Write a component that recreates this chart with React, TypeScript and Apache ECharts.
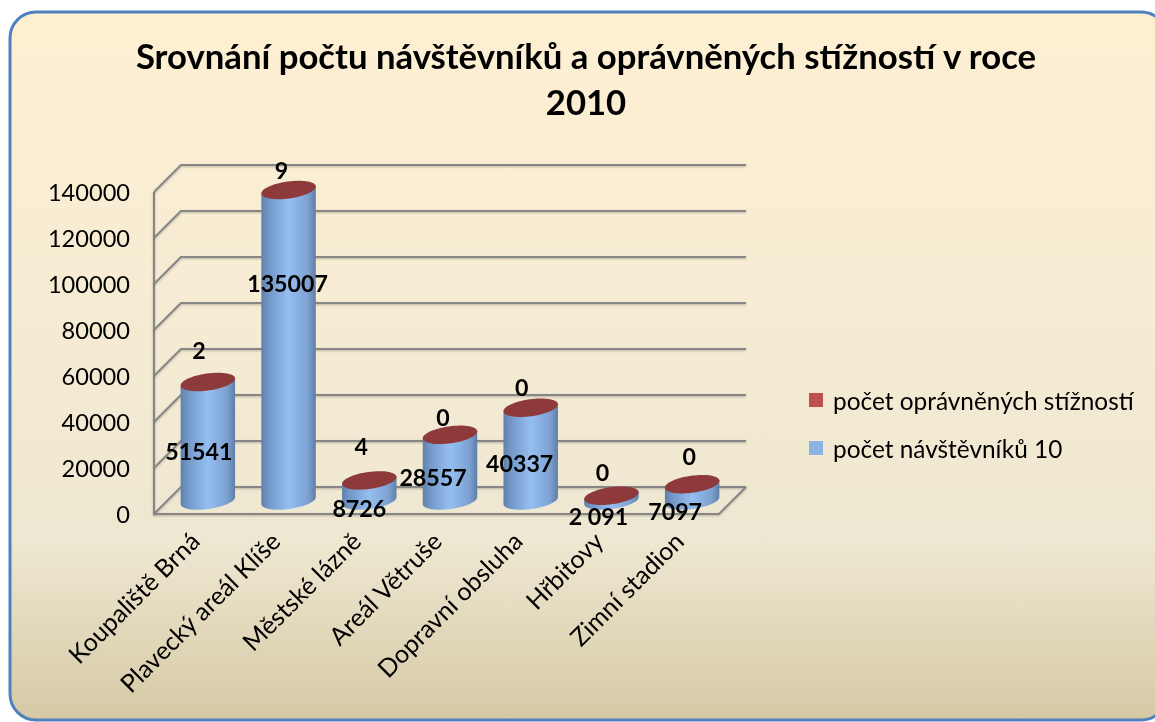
import React, { useEffect, useRef } from "react";
import * as echarts from "echarts";

const categories = ["Koupaliště Brná", "Plavecký areál Klíše", "Městské lázně", "Areál Větruše", "Dopravní obsluha", "Hřbitovy", "Zimní stadion"];
const visitors = [51541, 135007, 8726, 28557, 40337, 2091, 7097];
const visitorLabels = ["51541", "135007", "8726", "28557", "40337", "2 091", "7097"];
const complaints = [2, 9, 4, 0, 0, 0, 0];
const yTicks = [0, 20000, 40000, 60000, 80000, 100000, 120000, 140000];
// hand-placed label offsets, relative to the centre of each cylinder's top cap
const visitorLabelShift = [[-9, 69], [-1, 93], [-10, 28], [-17, 42], [-11, 55], [-13, 20], [-17, 27]];
const complaintLabelShift = [[-9, -32], [-7, -20], [-8, -34], [-7, -18], [-9, -21], [-9, -24], [-3, -28]];

const DEPTH = 27;
const RX = 27.5;
const RY = 8.5;
const TILT = (8 * Math.PI) / 180;
const FONT = "Lato, 'Open Sans', sans-serif";

function ellipsePoint(cx: number, cy: number, t: number) {
  const x = RX * Math.cos(t);
  const y = RY * Math.sin(t);
  return [cx + x * Math.cos(TILT) + y * Math.sin(TILT), cy - x * Math.sin(TILT) + y * Math.cos(TILT)];
}

function labelText(text: string, x: number, y: number) {
  return {
    type: "text",
    z2: 20,
    style: { text, x, y, fill: "#000", font: `bold 23.2px ${FONT}`, textAlign: "center", textVerticalAlign: "middle" },
  };
}

export default function App() {
  const ref = useRef<HTMLDivElement>(null);
  useEffect(() => {
    const chart = echarts.init(ref.current!, undefined, { renderer: "svg" });
    const lineStyle = {
      stroke: "#868686",
      lineWidth: 2,
      fill: "none",
      shadowColor: "rgba(0,0,0,0.25)",
      shadowBlur: 2,
      shadowOffsetY: 1,
    };
    chart.setOption({
      animation: false,
      title: {
        text: "Srovnání počtu návštěvníků a oprávněných stížností v roce\n2010",
        left: 581,
        top: 27,
        textAlign: "center",
        textStyle: { fontFamily: FONT, fontSize: 34.7, fontWeight: "bold", color: "#000", lineHeight: 46 },
      },
      graphic: [
        {
          type: "rect",
          z: -10,
          shape: { x: 10, y: 12, width: 1157, height: 708, r: 26 },
          style: {
            fill: new echarts.graphic.LinearGradient(0, 0, 0, 1, [
              { offset: 0, color: "#FEEFD2" },
              { offset: 0.4, color: "#F6ECD3" },
              { offset: 0.75, color: "#EEE7D1" },
              { offset: 1, color: "#D5C9A5" },
            ]),
            stroke: "#4F81BD",
            lineWidth: 3,
          },
        },
      ],
      legend: {
        left: 804,
        top: 383,
        orient: "vertical",
        itemWidth: 14,
        itemHeight: 14,
        itemGap: 24,
        icon: "rect",
        data: ["počet oprávněných stížností", "počet návštěvníků 10"],
        textStyle: { fontFamily: FONT, fontSize: 24.4, color: "#000", padding: [0, 0, 0, 5] },
      },
      grid: { left: 154, right: 436, top: 192, bottom: 208 },
      xAxis: {
        type: "category",
        data: categories,
        axisLine: { show: false },
        axisTick: { show: false },
        axisLabel: { rotate: 45, interval: 0, margin: 22, fontFamily: FONT, fontSize: 25, color: "#000" },
      },
      yAxis: {
        type: "value",
        min: 0,
        max: 140000,
        interval: 20000,
        splitLine: { show: false },
        axisLine: { show: false },
        axisTick: { show: false },
        axisLabel: { margin: 24, fontFamily: FONT, fontSize: 23.6, color: "#000", formatter: (v: number) => String(v) },
      },
      series: [
        {
          type: "custom",
          name: "walls",
          silent: true,
          z: 1,
          encode: { x: 0, y: 1 },
          data: yTicks.map((v) => [0, v]),
          renderItem: (_p: any, api: any) => {
            const band = api.size([1, 0])[0];
            const v = api.value(1);
            const pt = api.coord([0, v]);
            const x0 = pt[0] - band / 2;
            const y = pt[1];
            const x1 = x0 + band * categories.length;
            const children: any[] = [
              { type: "polyline", shape: { points: [[x0, y], [x0 + DEPTH, y - DEPTH], [x1 + DEPTH, y - DEPTH]] }, style: lineStyle },
            ];
            if (v === 0) {
              const top = api.coord([0, yTicks[yTicks.length - 1]])[1];
              children.push(
                { type: "polyline", shape: { points: [[x0, top], [x0, y], [x1, y], [x1 + DEPTH, y - DEPTH]] }, style: lineStyle },
              );
            }
            return { type: "group", children };
          },
        },
        {
          type: "custom",
          name: "počet návštěvníků 10",
          z: 2,
          itemStyle: { color: "#8DB4E2" },
          encode: { x: 0, y: 1 },
          data: visitors.map((v, i) => [i, v]),
          renderItem: (p: any, api: any) => {
            const i = api.value(0);
            const cx = api.coord([i, 0])[0] + DEPTH / 2;
            const by = api.coord([i, 0])[1] - DEPTH / 2;
            const ty = api.coord([i, api.value(1)])[1] - DEPTH / 2;
            const pts: number[][] = [ellipsePoint(cx, ty, Math.PI)];
            for (let k = 0; k <= 40; k++) pts.push(ellipsePoint(cx, by, Math.PI - (Math.PI * k) / 40));
            pts.push(ellipsePoint(cx, ty, 0));
            const s = visitorLabelShift[p.dataIndex];
            return {
              type: "group",
              children: [
                {
                  type: "polygon",
                  shape: { points: pts },
                  style: {
                    fill: new echarts.graphic.LinearGradient(0, 0, 1, 0, [
                      { offset: 0, color: "#5F80AB" },
                      { offset: 0.12, color: "#7196C6" },
                      { offset: 0.5, color: "#95BEF1" },
                      { offset: 0.85, color: "#7DA2D2" },
                      { offset: 1, color: "#5F7EA6" },
                    ]),
                  },
                },
                labelText(visitorLabels[p.dataIndex], cx + s[0], ty + s[1]),
              ],
            };
          },
        },
        {
          type: "custom",
          name: "počet oprávněných stížností",
          z: 3,
          itemStyle: { color: "#C0504D" },
          encode: { x: 0, y: 1 },
          data: complaints.map((v, i) => [i, visitors[i] + v]),
          renderItem: (p: any, api: any) => {
            const i = api.value(0);
            const cx = api.coord([i, 0])[0] + DEPTH / 2;
            const ty = api.coord([i, api.value(1)])[1] - DEPTH / 2;
            const pts: number[][] = [];
            for (let k = 0; k < 60; k++) pts.push(ellipsePoint(cx, ty, (2 * Math.PI * k) / 60));
            const s = complaintLabelShift[p.dataIndex];
            return {
              type: "group",
              children: [
                { type: "polygon", shape: { points: pts }, style: { fill: "#8E3A3A" } },
                labelText(String(complaints[p.dataIndex]), cx + s[0], ty + s[1]),
              ],
            };
          },
        },
      ],
    });
    return () => chart.dispose();
  }, []);
  return <div ref={ref} style={{ position: "fixed", left: 0, top: 0, width: 1155, height: 722 }} />;
}
